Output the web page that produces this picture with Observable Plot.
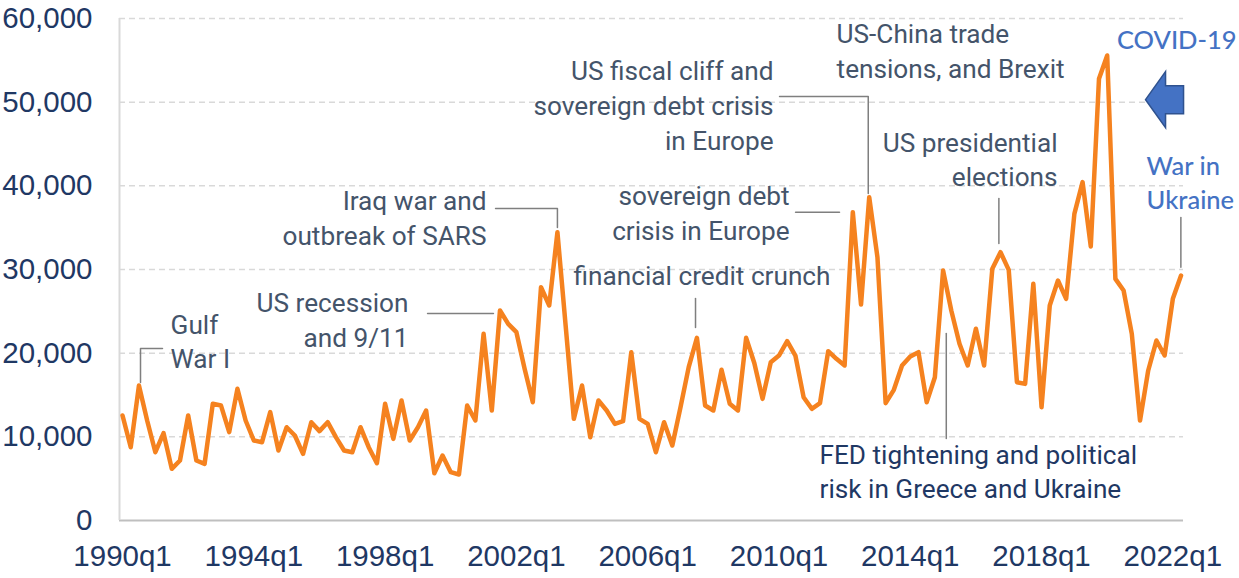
<!DOCTYPE html>
<html><head><meta charset="utf-8">
<script src="https://cdn.jsdelivr.net/npm/d3@7"></script>
<script src="https://cdn.jsdelivr.net/npm/@observablehq/plot@0.6"></script>
<style>
html,body{margin:0;padding:0;background:#fff;}
#chart{width:1239px;height:578px;overflow:hidden;}
</style></head><body><div id="chart"></div>
<script>
// Quarterly series, 1990q1 .. 2022q2
const startYear = 1990;
const values = [
  12550, 8760, 16130, 11950, 8160, 10440, 6180, 7170,
  12550, 7170, 6770, 13950, 13740, 10560, 15740, 11950,
  9560, 9360, 12950, 8370, 11150, 10160, 7970, 11750,
  10680, 11750, 9960, 8370, 8160, 11150, 8760, 6850,
  13950, 9760, 14340, 9560, 11150, 13150, 5650, 7770,
  5780, 5500, 13740, 11950, 22310, 13150, 25100, 23500,
  22510, 18130, 14140, 27880, 25700, 34460, 23300, 12150,
  16130, 9960, 14340, 13150, 11550, 11870, 20120, 12150,
  11550, 8160, 11750, 8960, 13540, 18330, 21830, 13740,
  13150, 18010, 13950, 13150, 21830, 18800, 14540, 18920,
  19720, 21430, 19720, 14740, 13350, 14020, 20240, 19320,
  18530, 36850, 25820, 38640, 31470, 14020, 15620, 18530,
  19600, 20120, 14140, 17130, 29880, 25100, 21120, 18530,
  22910, 18530, 30080, 32070, 29960, 16530, 16330, 28290,
  13540, 25700, 28680, 26490, 36650, 40440, 32750, 52790,
  55580, 28880, 27490, 22310, 11950, 17930, 21510, 19720,
  26490, 29280
];
const quarters = values.map((v, i) => `${startYear + Math.floor(i / 4)}q${(i % 4) + 1}`);
const tickLabels = ["1990q1","1994q1","1998q1","2002q1","2006q1","2010q1","2014q1","2018q1","2022q1"];
const yTicks = [0, 10000, 20000, 30000, 40000, 50000, 60000];

// Annotations (x = quarter index, y = value)
const annGrey = [
  {text: "Gulf\nWar I", x: 5.85, y: 21600, anchor: "start"},
  {text: "US recession\nand 9/11", x: 34.85, y: 24200, anchor: "end"},
  {text: "Iraq war and\noutbreak of SARS", x: 44.36, y: 36350, anchor: "end"},
  {text: "US fiscal cliff and\nsovereign debt crisis\nin Europe", x: 79.34, y: 49800, anchor: "end"},
  {text: "US-China trade\ntensions, and Brexit", x: 87.02, y: 56300, anchor: "start"},
  {text: "sovereign debt\ncrisis in Europe", x: 81.29, y: 36950, anchor: "end"},
  {text: "financial credit crunch", x: 86.28, y: 29500, anchor: "end"},
  {text: "US presidential\nelections", x: 113.95, y: 43350, anchor: "end"}
];
const annNavy = [
  {text: "FED tightening and political\nrisk in Greece and Ukraine", x: 84.94, y: 6000, anchor: "start"}
];
const annBlue = [
  {text: "COVID-19", x: 135.77, y: 57700, anchor: "end"},
  {text: "War in\nUkraine", x: 124.8, y: 40600, anchor: "start"}
];
const arrowPos = [{x: 126.99, y: 50300}];

const leaders = [
  {id: "gulf", pts: [[2.19, 16500], [2.19, 20560], [4.87, 20560]]},
  {id: "recession", pts: [[37.17, 24740], [45.2, 24740]]},
  {id: "iraq", pts: [[45.46, 37290], [53, 37290], [53, 35020]]},
  {id: "fiscal", pts: [[80.07, 50680], [90.88, 50680], [90.88, 39080]]},
  {id: "sovereign", pts: [[82.02, 36850], [87.38, 36850]]},
  {id: "credit", pts: [[69.83, 26530], [69.83, 23070]]},
  {id: "pres", pts: [[106.8, 38490], [106.8, 33110]]},
  {id: "fed", pts: [[100.39, 22350], [100.39, 9800]]},
  {id: "ukraine", pts: [[128.98, 36210], [128.98, 30270]]}
];

const series = values.map((v, i) => ({i, q: quarters[i], v}));
const leaderData = leaders.flatMap(l => l.pts.map(([x, y]) => ({id: l.id, x, y})));
const tickIdx = tickLabels.map(t => quarters.indexOf(t));
const xDomain = [-0.37, 129.3];

const annFont = "Roboto, 'Noto Sans', sans-serif";
const blueFont = "Lato, 'Open Sans', sans-serif";

function textMarks(data, opts) {
  return ["start", "end", "middle"].map(a =>
    Plot.text(data.filter(d => d.anchor === a), {
      x: "x", y: "y", text: "text", textAnchor: a, lineAnchor: "middle", ...opts
    }));
}

const arrowSymbol = {
  draw(ctx) {
    ctx.moveTo(-19, 0); ctx.lineTo(1, -28); ctx.lineTo(1, -14); ctx.lineTo(19, -14);
    ctx.lineTo(19, 14); ctx.lineTo(1, 14); ctx.lineTo(1, 28); ctx.closePath();
  }
};

const chart = Plot.plot({
  width: 1239, height: 578,
  marginLeft: 119, marginRight: 56, marginTop: 18, marginBottom: 58,
  x: {domain: xDomain},
  y: {domain: [0, 60000]},
  style: {color: "#1f3864", background: "#fff", overflow: "visible",
          fontFamily: "'Liberation Sans', Arial, sans-serif", fontSize: "29.5px"},
  marks: [
    Plot.gridY(yTicks.filter(d => d > 0), {stroke: "#d9d9d9", strokeOpacity: 1, strokeWidth: 1.5, strokeDasharray: "6,4"}),
    Plot.ruleY([0], {stroke: "#bfbfbf", strokeWidth: 2}),
    Plot.ruleX([xDomain[0]], {stroke: "#d9d9d9", strokeWidth: 2}),
    Plot.axisY(yTicks, {tickSize: 0, tickPadding: 27, tickFormat: d3.format(","), label: null}),
    Plot.axisX(tickIdx, {tickSize: 0, tickPadding: 25, tickFormat: i => quarters[i], label: null}),
    Plot.line(leaderData, {x: "x", y: "y", z: "id", stroke: "#7f7f7f", strokeWidth: 1.5}),
    Plot.line(series, {x: "i", y: "v", stroke: "#f5821f", strokeWidth: 4.5, strokeLinejoin: "round", strokeLinecap: "round"}),
    ...textMarks(annGrey, {fill: "#44546a", fontFamily: annFont, fontSize: 26.2, lineHeight: 1.33}),
    ...textMarks(annNavy, {fill: "#1f3864", fontFamily: annFont, fontSize: 26.2, lineHeight: 1.3}),
    ...textMarks(annBlue, {fill: "#4472c4", fontFamily: blueFont, fontSize: 25.5, lineHeight: 1.37, fontWeight: 500}),
    Plot.dot(arrowPos, {x: "x", y: "y", symbol: arrowSymbol, fill: "#4472c4", stroke: "#2f528f", strokeWidth: 1.5})
  ]
});
document.getElementById("chart").appendChild(chart);
</script>
</body></html>
